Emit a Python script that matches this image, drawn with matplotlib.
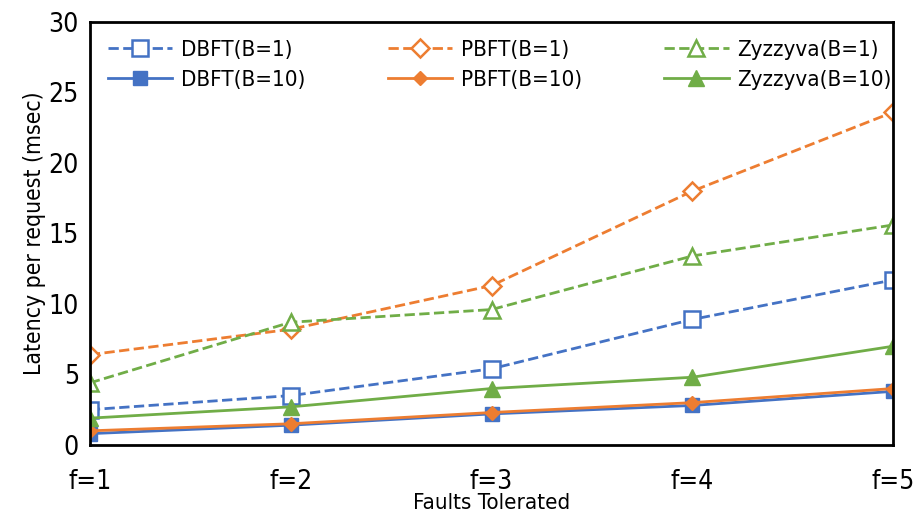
import matplotlib.pyplot as plt

plt.rcParams['font.family'] = ['DejaVu Sans']
plt.rcParams['font.stretch'] = 'condensed'

faults = ["f=1", "f=2", "f=3", "f=4", "f=5"]
x = [1, 2, 3, 4, 5]

dbft_b1 = [2.5, 3.5, 5.4, 8.9, 11.7]
pbft_b1 = [6.4, 8.2, 11.3, 18.0, 23.6]
zyz_b1 = [4.4, 8.7, 9.6, 13.4, 15.6]
dbft_b10 = [0.8, 1.4, 2.2, 2.8, 3.8]
pbft_b10 = [1.0, 1.5, 2.3, 3.0, 4.0]
zyz_b10 = [1.9, 2.7, 4.0, 4.8, 7.0]

blue = '#4472C4'
orange = '#ED7D31'
green = '#70AD47'

fig = plt.figure(figsize=(9.17, 5.21), dpi=100)
ax = fig.add_axes([0.098, 0.146, 0.876, 0.812])

ax.plot(x, dbft_b1, '--', color=blue, marker='s', ms=11, mfc='white', mec=blue, mew=1.8, lw=2, label='DBFT(B=1)')
ax.plot(x, dbft_b10, '-', color=blue, marker='s', ms=10, mfc=blue, mec=blue, lw=2, label='DBFT(B=10)')
ax.plot(x, pbft_b1, '--', color=orange, marker='D', ms=9, mfc='white', mec=orange, mew=1.8, lw=2, label='PBFT(B=1)')
ax.plot(x, pbft_b10, '-', color=orange, marker='D', ms=7, mfc=orange, mec=orange, lw=2, label='PBFT(B=10)')
ax.plot(x, zyz_b1, '--', color=green, marker='^', ms=11, mfc='white', mec=green, mew=1.8, lw=2, label='Zyzzyva(B=1)')
ax.plot(x, zyz_b10, '-', color=green, marker='^', ms=11, mfc=green, mec=green, lw=2, label='Zyzzyva(B=10)')

ax.set_xlim(1, 5)
ax.set_ylim(0, 30)
ax.set_xticks(x)
ax.set_xticklabels(faults)
ax.set_yticks([0, 5, 10, 15, 20, 25, 30])
ax.tick_params(axis='both', length=0, labelsize=19)
ax.tick_params(axis='x', pad=17)
ax.tick_params(axis='y', pad=8)
for s in ax.spines.values():
    s.set_linewidth(2)
    s.set_color('black')

ax.set_xlabel('Faults Tolerated', fontsize=16, labelpad=-1)
ax.set_ylabel('Latency per request (msec)', fontsize=16.5, labelpad=2)

ax.legend(ncol=3, loc='upper left', bbox_to_anchor=(0.0, 1.0), frameon=False,
          fontsize=16, handlelength=2.9, columnspacing=3.7, handletextpad=0.4,
          labelspacing=0.45, borderaxespad=0.4)

fig.savefig('out.png', dpi=100)
